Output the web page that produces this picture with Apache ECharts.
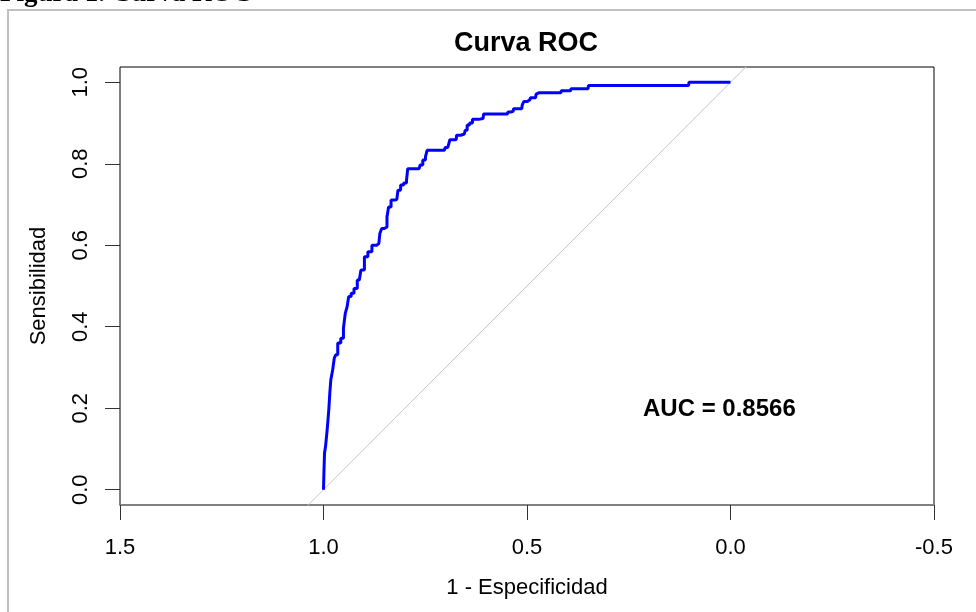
<!DOCTYPE html>
<html>
<head>
<meta charset="utf-8">
<script src="https://cdn.jsdelivr.net/npm/echarts@6/dist/echarts.min.js"></script>
<style>
  html, body { margin: 0; padding: 0; background: #fff; }
  #roc { width: 976px; height: 612px; }
</style>
</head>
<body>
<div id="roc"></div>
<script>
// especificidad (eje invertido) y sensibilidad
var especificidad = [
    1.000, 0.998, 0.997, 0.993, 0.989, 0.985, 0.984, 0.980, 0.975, 0.972,
    0.968, 0.962, 0.953, 0.949, 0.944, 0.940, 0.936, 0.928, 0.922, 0.912,
    0.904, 0.895, 0.887, 0.875, 0.864, 0.859, 0.855, 0.846, 0.842, 0.838,
    0.830, 0.820, 0.814, 0.807, 0.799, 0.793, 0.793, 0.765, 0.760, 0.752,
    0.747, 0.744, 0.703, 0.699, 0.690, 0.689, 0.674, 0.672, 0.654, 0.650,
    0.644, 0.638, 0.630, 0.608, 0.605, 0.548, 0.546, 0.534, 0.532, 0.513,
    0.510, 0.505, 0.493, 0.490, 0.479, 0.476, 0.471, 0.417, 0.415, 0.393,
    0.391, 0.350, 0.348, 0.103, 0.101, 0.000
];
var sensibilidad = [
    0.000, 0.041, 0.090, 0.106, 0.147, 0.196, 0.237, 0.270, 0.294, 0.323,
    0.331, 0.360, 0.372, 0.396, 0.433, 0.449, 0.474, 0.482, 0.494, 0.515,
    0.539, 0.572, 0.584, 0.600, 0.604, 0.629, 0.641, 0.645, 0.670, 0.694,
    0.711, 0.712, 0.735, 0.748, 0.753, 0.760, 0.788, 0.788, 0.797, 0.809,
    0.817, 0.833, 0.833, 0.840, 0.840, 0.859, 0.859, 0.870, 0.873, 0.882,
    0.895, 0.900, 0.909, 0.911, 0.922, 0.922, 0.927, 0.929, 0.935, 0.935,
    0.945, 0.953, 0.957, 0.962, 0.962, 0.971, 0.974, 0.974, 0.979, 0.979,
    0.984, 0.984, 0.992, 0.992, 1.000, 1.000
];
// linea de referencia (azar)
var diagonalX = [1.2, -0.2];
var diagonalY = [-0.2, 1.2];

var xTicks = [1.5, 1.0, 0.5, 0.0, -0.5];
var yTicks = [0.0, 0.2, 0.4, 0.6, 0.8, 1.0];
var aucText = 'AUC = 0.8566';

var font = '"Liberation Sans", Arial, sans-serif';

var curva = especificidad.map(function (v, i) { return [v, sensibilidad[i]]; });
var diagonal = diagonalX.map(function (v, i) { return [v, diagonalY[i]]; });

var chart = echarts.init(document.getElementById('roc'));
chart.setOption({
    backgroundColor: '#fff',
    animation: false,
    title: {
        text: 'Curva ROC',
        left: 449,
        top: 25,
        textStyle: { fontFamily: font, fontWeight: 'bold', fontSize: 27, color: '#000' }
    },
    grid: {
        left: 120,
        right: 42,
        top: 67,
        bottom: 107,
        show: true,
        borderColor: '#000',
        borderWidth: 1,
        backgroundColor: 'transparent'
    },
    xAxis: {
        type: 'value',
        inverse: true,
        min: -0.5,
        max: 1.5,
        interval: 0.5,
        name: '1 - Especificidad',
        nameLocation: 'middle',
        nameGap: 72,
        nameTextStyle: { fontFamily: font, fontSize: 22, color: '#000' },
        axisLine: { show: true, onZero: false, lineStyle: { color: '#808080', width: 2 } },
        axisTick: { show: true, inside: false, length: 15, lineStyle: { color: '#333' } },
        axisLabel: {
            margin: 32,
            fontFamily: font,
            fontSize: 22,
            color: '#000',
            customValues: xTicks,
            formatter: function (v) { return v.toFixed(1); }
        },
        splitLine: { show: false }
    },
    yAxis: {
        type: 'value',
        min: -0.0375,
        max: 1.0375,
        name: 'Sensibilidad',
        nameLocation: 'middle',
        nameGap: 70,
        nameTextStyle: { fontFamily: font, fontSize: 22, color: '#000' },
        axisLine: { show: false, onZero: false },
        axisTick: { show: true, inside: false, length: 15, customValues: yTicks, lineStyle: { color: '#333' } },
        axisLabel: {
            margin: 28,
            rotate: 90,
            fontFamily: font,
            fontSize: 22,
            color: '#000',
            customValues: yTicks,
            formatter: function (v) { return v.toFixed(1); }
        },
        splitLine: { show: false }
    },
    series: [
        {
            type: 'line',
            data: diagonal,
            showSymbol: false,
            clip: true,
            lineStyle: { color: '#c8c8c8', width: 1 },
            silent: true
        },
        {
            type: 'line',
            data: curva,
            step: 'middle',
            showSymbol: false,
            clip: true,
            lineStyle: { color: '#0000ff', width: 3 },
            z: 3
        }
    ],
    graphic: [
        {
            type: 'rect',
            shape: { x: 8, y: 10, width: 1000, height: 700 },
            style: { fill: 'none', stroke: '#c0c0c0', lineWidth: 2 },
            z: -1
        },
        {
            type: 'text',
            x: 0,
            y: 8,
            style: {
                text: 'Figura 1. Curva ROC',
                font: 'bold 27px "Liberation Serif", "Times New Roman", serif',
                fill: '#000',
                verticalAlign: 'bottom'
            }
        },
        {
            type: 'text',
            x: 643,
            y: 409,
            style: {
                text: aucText,
                font: 'bold 24px ' + font,
                fill: '#000',
                verticalAlign: 'middle'
            }
        }
    ]
});
</script>
</body>
</html>
